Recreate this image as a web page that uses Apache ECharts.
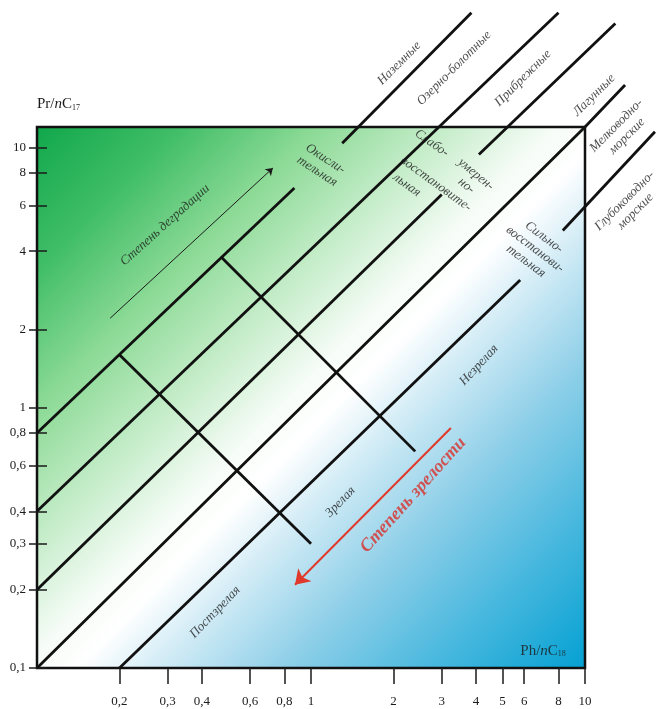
<!DOCTYPE html>
<html>
<head>
<meta charset="utf-8">
<script src="https://cdn.jsdelivr.net/npm/echarts@6/dist/echarts.min.js"></script>
<style>
  html, body { margin: 0; padding: 0; background: #ffffff; }
  #chart { width: 656px; height: 709px; }
</style>
</head>
<body>
<div id="chart"></div>
<script>
// Axis ticks (Ph/nC18 horizontally, Pr/nC17 vertically), both on log scales
const xTicks = [0.2, 0.3, 0.4, 0.6, 0.8, 1, 2, 3, 4, 5, 6, 8, 10];
const yTicks = [0.1, 0.2, 0.3, 0.4, 0.6, 0.8, 1, 2, 4, 6, 8, 10];
const xRange = [0.1, 10];
const yRange = [0.1, 12];

// Facies boundaries: polyline segments as [Ph/nC18, Pr/nC17] points
const lineTerrestrial = [[[0.1, 0.8], [0.87, 7.0]], [[1.3, 10.4], [3.85, 33]]];
const lineLakeSwamp   = [[[0.1, 0.4], [8, 33]]];
const lineCoastal     = [[[0.1, 0.2], [3.0, 6.6]], [[4.1, 9.4], [12.9, 30]]];
const lineLagoon      = [[[0.1, 0.1], [10, 12], [14, 17.4]]];
const lineDeepMarine  = [[[0.2, 0.1], [5.8, 3.1]], [[8.3, 4.8], [18, 11.5]]];

// Maturity boundaries (across the facies lines)
const maturityBounds = [[[0.2, 1.6], [1.0, 0.3]], [[0.47, 3.8], [2.4, 0.68]]];

// Trend arrows
const arrowDegradation = [[0.185, 2.21], [0.726, 8.35]];
const arrowMaturity    = [[3.24, 0.836], [0.874, 0.209]];

// Environment names at the ends of the boundaries
const envNames = ['Наземные', 'Озерно-болотные', 'Прибрежные', 'Лагунные', 'Мелководно-\nморские', 'Глубоководно-\nморские'];
const envAt    = [[2.1, 21.1], [3.33, 20.2], [5.94, 18.5], [10.8, 15.9], [13.6, 11.6], [14.6, 5.96]];

// Redox conditions
const redoxNames = ['Окисли-\nтельная', 'Слабо-', 'умерен-\nно-', 'восстановите-', 'льная', 'Сильно-\nвосстанови-\nтельная'];
const redoxAt    = [[1.09, 8.57], [2.76, 10.4], [3.84, 7.51], [2.86, 7.25], [2.24, 7.18], [6.57, 4.07]];

// Maturity zones
const maturityNames = ['Незрелая', 'Зрелая', 'Постзрелая'];
const maturityAt    = [[4.10, 1.46], [1.28, 0.435], [0.447, 0.164]];

// Arrow captions
const degradationCaption = 'Степень деградации';
const degradationAt = [0.293, 5.04];
const maturityCaption = 'Степень зрелости';
const maturityCaptionAt = [2.36, 0.462];
const xAxisTitleAt = [7.03, 0.117];

const lg = v => Math.log10(v);
const pt = p => [lg(p[0]), lg(p[1])];
const tickText = v => String(+Math.pow(10, v).toPrecision(2)).replace('.', ',');

const SERIF = '"Liberation Serif", "DejaVu Serif", serif';
const INK = '#1b1b1b';

const boundarySegments = []
  .concat(lineTerrestrial, lineLakeSwamp, lineCoastal, lineLagoon, lineDeepMarine)
  .map(seg => ({ coords: seg.map(pt) }));

const textItems = (names, at, rotate) =>
  names.map((n, i) => ({ name: n, value: pt(at[i]), label: { rotate: rotate[i] } }));

const labelData = []
  .concat(textItems(envNames, envAt, [45, 45, 45, 45, 45, 45]))
  .concat(textItems(redoxNames, redoxAt, [-33, -35, -40, -36, -36, -37]))
  .concat(textItems(maturityNames, maturityAt, [47, 46, 46]))
  .concat(textItems([degradationCaption], [degradationAt], [42]));

const chart = echarts.init(document.getElementById('chart'));

// green (upper left) -> white along the diagonal -> blue (lower right)
const bg = new echarts.graphic.LinearGradient(0, 0, 1, 1, [
  { offset: 0.00, color: '#10a74b' },
  { offset: 0.13, color: '#3fbd66' },
  { offset: 0.26, color: '#8cda96' },
  { offset: 0.38, color: '#c6edca' },
  { offset: 0.48, color: '#f6fcf7' },
  { offset: 0.53, color: '#ffffff' },
  { offset: 0.60, color: '#d3ecf6' },
  { offset: 0.72, color: '#8ecfe8' },
  { offset: 0.86, color: '#46b7de' },
  { offset: 1.00, color: '#03a0d2' }
]);

const tickStyle = { color: INK, width: 1.5 };
const noLine = { show: false, onZero: false };

chart.setOption({
  animation: false,
  grid: {
    left: 37, top: 127, width: 548, height: 541,
    show: true, backgroundColor: bg, borderColor: '#111', borderWidth: 2.5
  },
  xAxis: {
    type: 'value', min: lg(xRange[0]), max: lg(xRange[1]), position: 'bottom',
    axisLine: noLine, splitLine: { show: false },
    axisTick: { customValues: xTicks.map(lg), length: 16, lineStyle: tickStyle },
    axisLabel: {
      customValues: xTicks.map(lg), formatter: tickText, margin: 27,
      fontFamily: SERIF, fontSize: 13, color: INK
    }
  },
  yAxis: [
    {
      type: 'value', min: lg(yRange[0]), max: lg(yRange[1]), position: 'left',
      axisLine: noLine, splitLine: { show: false },
      axisTick: { customValues: yTicks.map(lg), length: 8, lineStyle: tickStyle },
      axisLabel: {
        customValues: yTicks.map(lg), formatter: tickText, margin: 11,
        fontFamily: SERIF, fontSize: 13, color: INK
      },
      name: '{a|Pr/}{i|n}{a|C}{s|17}',
      nameLocation: 'end', nameGap: 15,
      nameTextStyle: {
        align: 'left',
        rich: {
          a: { fontFamily: SERIF, fontSize: 15, color: INK, lineHeight: 16, verticalAlign: 'bottom' },
          i: { fontFamily: SERIF, fontSize: 15, color: INK, fontStyle: 'italic', lineHeight: 16, verticalAlign: 'bottom' },
          s: { fontFamily: SERIF, fontSize: 8, color: INK, lineHeight: 8, verticalAlign: 'bottom' }
        }
      }
    },
    {
      type: 'value', min: lg(yRange[0]), max: lg(yRange[1]), position: 'left',
      axisLine: noLine, splitLine: { show: false }, axisLabel: { show: false },
      axisTick: { inside: true, customValues: yTicks.map(lg), length: 10, lineStyle: tickStyle }
    }
  ],
  series: [
    {
      name: 'facies', type: 'lines', coordinateSystem: 'cartesian2d', polyline: true,
      clip: false, silent: true,
      lineStyle: { color: '#111', width: 2.8, opacity: 1 },
      data: boundarySegments
    },
    {
      name: 'maturity', type: 'lines', coordinateSystem: 'cartesian2d', polyline: true,
      clip: false, silent: true,
      lineStyle: { color: '#111', width: 2.8, opacity: 1 },
      data: maturityBounds.map(seg => ({ coords: seg.map(pt) }))
    },
    {
      name: 'degradation', type: 'lines', coordinateSystem: 'cartesian2d',
      clip: false, silent: true, symbol: ['none', 'arrow'], symbolSize: 7,
      lineStyle: { color: '#1a1a1a', width: 1, opacity: 1 },
      data: [{ coords: arrowDegradation.map(pt) }]
    },
    {
      name: 'maturity trend', type: 'lines', coordinateSystem: 'cartesian2d',
      clip: false, silent: true, symbol: ['none', 'arrow'], symbolSize: 14,
      lineStyle: { color: '#e0392b', width: 2, opacity: 1 },
      data: [{ coords: arrowMaturity.map(pt) }]
    },
    {
      name: 'labels', type: 'scatter', symbolSize: 0, clip: false, silent: true,
      label: {
        show: true, position: 'inside', formatter: p => p.name,
        fontFamily: SERIF, fontStyle: 'italic', fontSize: 13, lineHeight: 15,
        color: INK, align: 'center'
      },
      data: labelData
    },
    {
      name: 'captions', type: 'scatter', symbolSize: 0, clip: false, silent: true,
      data: [
        {
          name: maturityCaption, value: pt(maturityCaptionAt),
          label: {
            show: true, position: 'inside', formatter: p => p.name, rotate: 48,
            fontFamily: SERIF, fontStyle: 'italic', fontWeight: 'bold', fontSize: 18, color: '#d9302a'
          }
        },
        {
          name: 'Ph/nC18', value: pt(xAxisTitleAt),
          label: {
            show: true, position: 'inside', formatter: '{a|Ph/}{i|n}{a|C}{s|18}',
            rich: {
              a: { fontFamily: SERIF, fontSize: 15, color: INK, lineHeight: 16, verticalAlign: 'bottom' },
              i: { fontFamily: SERIF, fontSize: 15, color: INK, fontStyle: 'italic', lineHeight: 16, verticalAlign: 'bottom' },
              s: { fontFamily: SERIF, fontSize: 8, color: INK, lineHeight: 8, verticalAlign: 'bottom' }
            }
          }
        }
      ]
    }
  ]
});
</script>
</body>
</html>
